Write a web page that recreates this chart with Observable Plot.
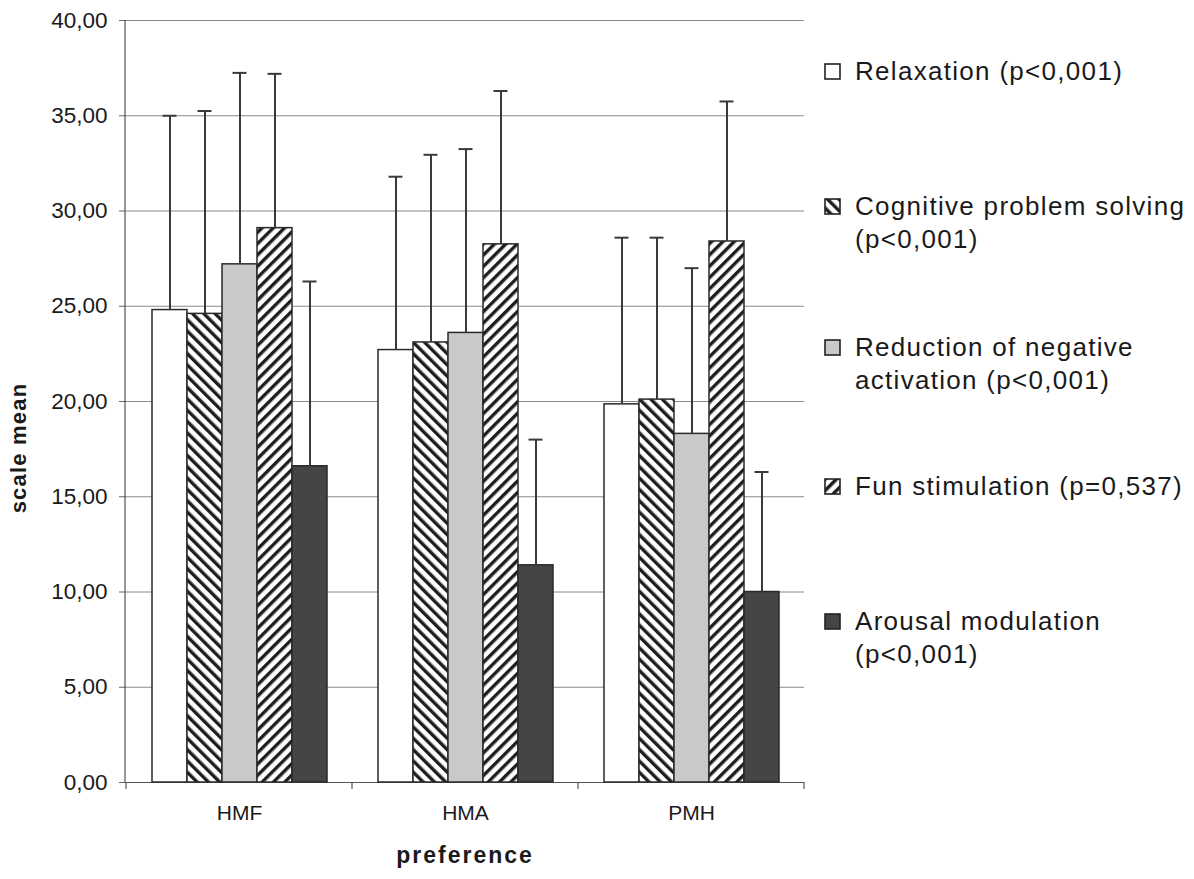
<!DOCTYPE html>
<html>
<head>
<meta charset="utf-8">
<script src="https://cdn.jsdelivr.net/npm/d3@7"></script>
<script src="https://cdn.jsdelivr.net/npm/@observablehq/plot@0.6"></script>
<style>
  html, body { margin: 0; padding: 0; background: #fff; }
  #wrap { position: relative; width: 1194px; height: 879px; overflow: hidden;
          font-family: "Liberation Sans", Arial, sans-serif; color: #1a1a1a; }
  #chart { position: absolute; left: 0; top: 0; }
  .legend-item { position: absolute; left: 824px; font-size: 26px; line-height: 33px;
                 letter-spacing: 1.3px; white-space: nowrap; }
  .legend-item svg { position: absolute; left: 0; top: 8px; }
  .legend-item .lines { position: absolute; left: 31px; top: 0; }
</style>
</head>
<body>
<!-- fill patterns shared by the bars and the legend swatches -->
<svg width="0" height="0" style="position:absolute">
  <defs>
    <pattern id="hatch-back" patternUnits="userSpaceOnUse" width="8" height="8" patternTransform="rotate(-45)">
      <rect width="8" height="8" fill="#fff"></rect>
      <rect width="3.4" height="8" fill="#1e1e1e"></rect>
    </pattern>
    <pattern id="hatch-fwd" patternUnits="userSpaceOnUse" width="8" height="8" patternTransform="rotate(45)">
      <rect width="8" height="8" fill="#fff"></rect>
      <rect width="3.4" height="8" fill="#1e1e1e"></rect>
    </pattern>
  </defs>
</svg>
<div id="wrap">
  <div id="chart"></div>
</div>
<script>
// Preference groups and the five scales
const prefs = ["HMF", "HMA", "PMH"];
const series = [
  "Relaxation",
  "Cognitive problem solving",
  "Reduction of negative activation",
  "Fun stimulation",
  "Arousal modulation"
];

// Scale means per preference group (order follows `series`)
const meanHMF = [24.8, 24.6, 27.2, 29.1, 16.6];
const meanHMA = [22.7, 23.1, 23.6, 28.25, 11.4];
const meanPMH = [19.85, 20.1, 18.3, 28.4, 10.0];

// Standard deviations (upper error bars)
const sdHMF = [10.2, 10.65, 10.05, 8.1, 9.7];
const sdHMA = [9.1, 9.85, 9.65, 8.05, 6.6];
const sdPMH = [8.75, 8.5, 8.7, 7.35, 6.3];

// Legend text, with p-values of the group comparison
const legendLines = [
  ["Relaxation (p<0,001)"],
  ["Cognitive problem solving", "(p<0,001)"],
  ["Reduction of negative", "activation (p<0,001)"],
  ["Fun stimulation (p=0,537)"],
  ["Arousal modulation", "(p<0,001)"]
];

// Y axis ticks
const yTicks = [0, 5, 10, 15, 20, 25, 30, 35, 40];

const fills = ["#ffffff", "url(#hatch-back)", "#c9c9c9", "url(#hatch-fwd)", "#454545"];

const means = {HMF: meanHMF, HMA: meanHMA, PMH: meanPMH};
const sds = {HMF: sdHMF, HMA: sdHMA, PMH: sdPMH};
const rows = prefs.flatMap(p => series.map((s, i) => ({
  pref: p,
  series: s,
  mean: means[p][i],
  top: means[p][i] + sds[p][i],
  fill: fills[i]
})));

const fmt = d => d.toFixed(2).replace(".", ",");
const font = "'Liberation Sans', Arial, sans-serif";

const plot = Plot.plot({
  width: 815,
  height: 879,
  marginLeft: 125,
  marginRight: 10,
  marginTop: 20,
  marginBottom: 97,
  style: {fontFamily: font, fontSize: "22px", color: "#1a1a1a", background: "transparent", overflow: "visible"},
  fx: {domain: prefs, paddingInner: 0, paddingOuter: 0, axis: null, label: null},
  x: {domain: series, paddingInner: 0, paddingOuter: 0.695, axis: null},
  y: {domain: [0, 40], axis: null},
  color: {type: "identity"},
  marks: [
    Plot.ruleY(yTicks, {stroke: "#8a8a8a", strokeWidth: 1}),
    Plot.ruleY([0], {stroke: "#555", strokeWidth: 1.2}),
    Plot.barY(rows, {fx: "pref", x: "series", y: "mean", fill: "fill", stroke: "#2a2a2a", strokeWidth: 1.5}),
    Plot.ruleX(rows, {fx: "pref", x: "series", y1: "mean", y2: "top", stroke: "#3a3a3a", strokeWidth: 2}),
    Plot.tickY(rows, {fx: "pref", x: "series", y: "top", stroke: "#3a3a3a", strokeWidth: 2, insetLeft: 10.5, insetRight: 10.5}),
    Plot.axisY({ticks: yTicks, tickFormat: fmt, tickSize: 7, tickPadding: 12, stroke: "#666", label: null}),
    Plot.axisFx({anchor: "bottom", tickSize: 0, tickPadding: 23, label: null})
  ]
});
document.getElementById("chart").appendChild(plot);

const svg = d3.select(plot.tagName.toLowerCase() === "svg" ? plot : plot.querySelector("svg"));

// Tick label sizes
const byText = t => svg.selectAll("text").filter(function () { return this.textContent === t; });
yTicks.forEach(v => byText(fmt(v)).style("font-size", "22.5px"));
prefs.forEach(p => byText(p).style("font-size", "21px"));

const fxScale = plot.scale("fx");
const yScale = plot.scale("y");
const y0 = yScale.apply(0), y40 = yScale.apply(40);
const left = fxScale.range[0];
const bw = fxScale.bandwidth;

// Axis line on the left and group boundary ticks along the bottom
const axisG = svg.append("g").attr("stroke", "#555").attr("stroke-width", 1.2);
axisG.append("line").attr("x1", left).attr("x2", left).attr("y1", y40).attr("y2", y0);
const bounds = [...prefs.map(p => fxScale.apply(p)), fxScale.apply(prefs[prefs.length - 1]) + bw];
bounds.forEach(bx => axisG.append("line").attr("x1", bx).attr("x2", bx).attr("y1", y0).attr("y2", y0 + 7));

// Axis titles
svg.append("text")
  .attr("x", fxScale.apply("HMA") + bw / 2).attr("y", y0 + 75)
  .attr("text-anchor", "middle").attr("dominant-baseline", "middle")
  .style("font-size", "23px").style("font-weight", "bold").style("letter-spacing", "2px")
  .attr("fill", "#1a1a1a").text("preference");
svg.append("text")
  .attr("transform", `translate(${left - 105},${(y0 + y40) / 2 + 47}) rotate(-90)`)
  .attr("text-anchor", "middle").attr("dominant-baseline", "middle")
  .style("font-size", "22px").style("font-weight", "bold").style("letter-spacing", "1.2px")
  .attr("fill", "#1a1a1a").text("scale mean");

// Legend to the right of the plot
const wrap = document.getElementById("wrap");
const legendTops = [55, 190, 331, 470, 605];
legendLines.forEach((lines, i) => {
  const item = document.createElement("div");
  item.className = "legend-item";
  item.style.top = legendTops[i] + "px";
  const sw = d3.create("svg").attr("width", 18).attr("height", 18);
  sw.append("rect").attr("x", 1).attr("y", 1).attr("width", 15).attr("height", 15)
    .attr("fill", fills[i]).attr("stroke", "#222").attr("stroke-width", 1.6);
  item.appendChild(sw.node());
  const txt = document.createElement("div");
  txt.className = "lines";
  txt.innerHTML = lines.map(l => l.replace(/</g, "&lt;")).join("<br>");
  item.appendChild(txt);
  wrap.appendChild(item);
});
</script>
</body>
</html>
